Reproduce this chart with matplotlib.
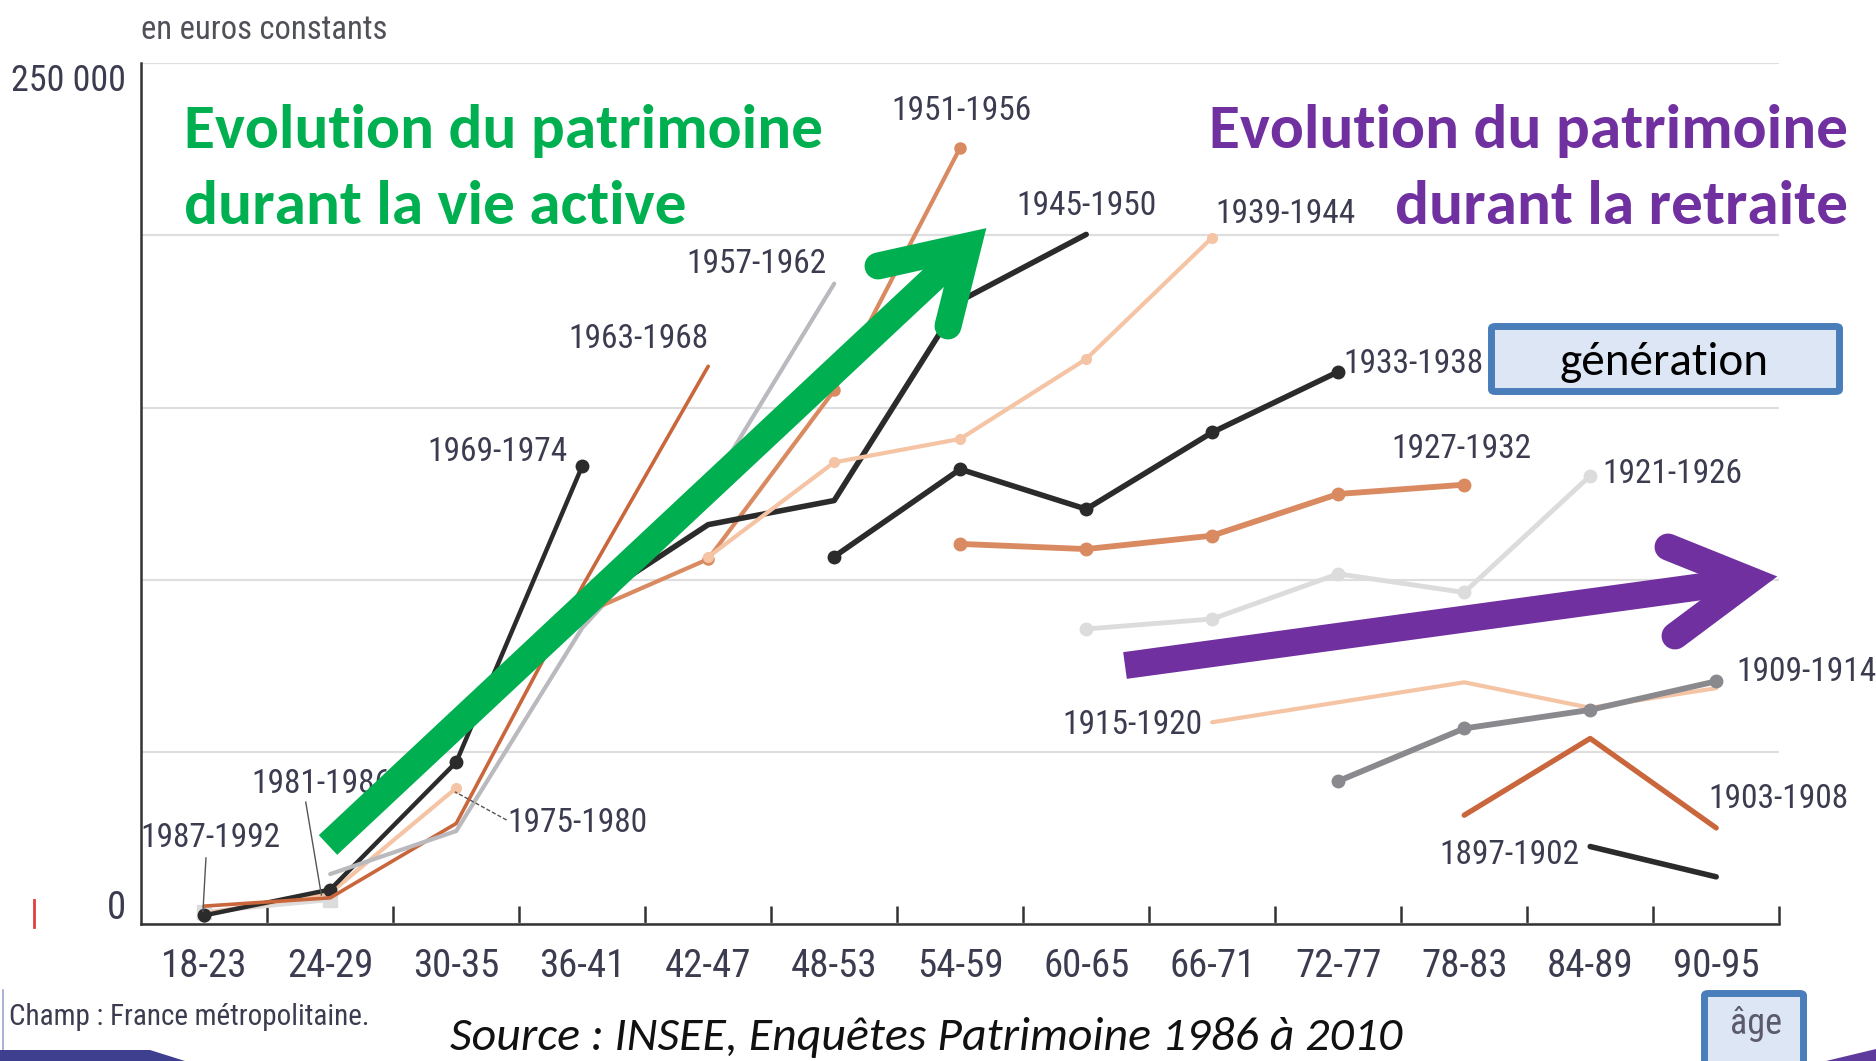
import matplotlib
matplotlib.use('Agg')
import matplotlib.pyplot as plt
import numpy as np
from matplotlib import font_manager
from matplotlib.lines import Line2D
from matplotlib.patches import FancyBboxPatch, Polygon

# ---------------- data ----------------
ages = ['18-23', '24-29', '30-35', '36-41', '42-47', '48-53', '54-59',
        '60-65', '66-71', '72-77', '78-83', '84-89', '90-95']

generations = ['1987-1992', '1981-1986', '1975-1980', '1969-1974', '1963-1968',
               '1957-1962', '1951-1956', '1945-1950', '1939-1944', '1933-1938',
               '1927-1932', '1921-1926', '1915-1920', '1909-1914', '1903-1908',
               '1897-1902']
# index (in ages) of the first age group observed for each generation
first_age = [0, 0, 0, 0, 0, 1, 2, 3, 4, 5, 6, 7, 8, 9, 10, 11]

v1987_1992 = [2400]
v1981_1986 = [3500, 7000]
v1975_1980 = [3000, 9000, 39500]
v1969_1974 = [2500, 10000, 47000, 133000]
v1963_1968 = [5200, 7600, 29200, 98000, 162000]
v1957_1962 = [14500, 27000, 86000, 126000, 186000]
v1951_1956 = [57000, 90000, 106000, 155000, 225500]
v1945_1950 = [92000, 116000, 123000, 181000, 200300]
v1939_1944 = [106600, 134100, 140900, 164100, 199400]
v1933_1938 = [106700, 132100, 120500, 142800, 160400]
v1927_1932 = [110400, 108900, 112800, 124900, 127600]
v1921_1926 = [85700, 88600, 101700, 96300, 130200]
v1915_1920 = [58600, 64400, 70200, 62800, 68500]
v1909_1914 = [41500, 56800, 62200, 70500]
v1903_1908 = [31600, 53900, 27900]
v1897_1902 = [22500, 13700]

series = [v1987_1992, v1981_1986, v1975_1980, v1969_1974, v1963_1968,
          v1957_1962, v1951_1956, v1945_1950, v1939_1944, v1933_1938,
          v1927_1932, v1921_1926, v1915_1920, v1909_1914, v1903_1908,
          v1897_1902]

# ---------------- styles ----------------
BLACK = '#2b2b2b'
DKOR = '#c9663c'
MDOR = '#d98a60'
PEACH = '#f5c4a4'
GREY = '#b9b9be'
LTGREY = '#dcdcdc'
DKGREY = '#8a8a8e'
styles = [
    dict(color=DKGREY, lw=2.5, marker='o', ms=8),
    dict(color=LTGREY, lw=3.0, marker='s', ms=10),
    dict(color=PEACH, lw=3.0, marker='o', ms=7),
    dict(color=BLACK, lw=3.2, marker='o', ms=9),
    dict(color=DKOR, lw=2.6, marker=None, ms=0),
    dict(color=GREY, lw=3.0, marker=None, ms=0),
    dict(color=MDOR, lw=3.0, marker='o', ms=8),
    dict(color=BLACK, lw=4.0, marker=None, ms=0),
    dict(color=PEACH, lw=3.0, marker='o', ms=7),
    dict(color=BLACK, lw=4.0, marker='o', ms=9),
    dict(color=MDOR, lw=4.2, marker='o', ms=9),
    dict(color=LTGREY, lw=3.5, marker='o', ms=9),
    dict(color=PEACH, lw=3.0, marker=None, ms=0),
    dict(color=DKGREY, lw=4.2, marker='o', ms=9),
    dict(color=DKOR, lw=3.8, marker=None, ms=0),
    dict(color=BLACK, lw=4.0, marker=None, ms=0),
]
# label anchor (x in age-index units, y in euros)
label_pos = [(0.05, 25100), (0.93, 40700), (2.96, 29300), (2.33, 137000),
             (3.45, 170000), (4.38, 191600), (6.01, 236000), (7.00, 208600),
             (8.58, 206200), (9.60, 162700), (9.98, 138000), (11.65, 130800),
             (7.37, 57800), (12.72, 73100), (12.49, 36300), (10.36, 19900)]

W, H, DPI = 1876, 1061, 100
names = set(font_manager.get_font_names())
NARROW = next((f for f in ['Liberation Sans Narrow', 'Roboto Condensed', 'Liberation Sans']
               if f in names), 'DejaVu Sans')
CAL = next((f for f in ['Carlito', 'Lato', 'Open Sans'] if f in names), 'DejaVu Sans')
LBL = '#3c3c50'
GREEN = '#00B050'
PURPLE = '#7030A0'


def P(x, y):
    return x / W, 1 - y / H


fig = plt.figure(figsize=(W / DPI, H / DPI), dpi=DPI)
fig.patch.set_facecolor('white')
AX_L, AX_R, AX_T, AX_B = 141.2, 1779.2, 63.3, 924.0
ax = fig.add_axes([AX_L / W, 1 - AX_B / H, (AX_R - AX_L) / W, (AX_B - AX_T) / H])
ax.set_xlim(-0.5, len(ages) - 0.5)
ax.set_ylim(0, 250000)
for s in ['top', 'right']:
    ax.spines[s].set_visible(False)
for s in ['left', 'bottom']:
    ax.spines[s].set_color('#333333')
    ax.spines[s].set_linewidth(1.8)
    ax.spines[s].set_zorder(5)

ax.set_yticks(np.arange(0, 250001, 50000))
ax.set_yticklabels([])
ax.tick_params(axis='y', length=0)
ax.grid(axis='y', color='#dedede', lw=1.6, zorder=0)
ax.set_xticks(range(len(ages)))
ax.set_xticklabels(ages, fontsize=28, color=LBL, family=NARROW)
ax.tick_params(axis='x', which='major', length=0, pad=17)
ax.set_xticks(np.arange(0.5, len(ages), 1.0), minor=True)
ax.tick_params(axis='x', which='minor', direction='in', length=13, width=1.8,
               color='#333333')

for vals, st, sty in zip(series, first_age, styles):
    x = np.arange(st, st + len(vals))
    ax.plot(x, vals, color=sty['color'], lw=sty['lw'], marker=sty['marker'],
            ms=sty['ms'], mec=sty['color'], solid_capstyle='round',
            clip_on=False, zorder=3)

for gen, (lx, ly) in zip(generations, label_pos):
    ax.text(lx, ly, gen, ha='center', va='center', fontsize=24, family=NARROW,
            color=LBL, zorder=4)

# leader lines
ax.plot([0.014, -0.01], [19200, 3600], color='#555555', lw=1.0, zorder=4, clip_on=False)
ax.plot([0.806, 0.930], [35400, 8400], color='#555555', lw=1.0, zorder=4, clip_on=False)
ax.plot([2.40, 1.99], [30200, 38400], color='#555555', lw=1.0, ls=(0, (3, 1.5)),
        zorder=4, clip_on=False)

# axis texts
fig.text(*P(141, 30), 'en euros constants', fontsize=23.5, family=NARROW,
         color='#505058', ha='left', va='center')
fig.text(*P(126, 63), '250 000', fontsize=26, family=NARROW, color=LBL,
         ha='right', va='top')
fig.text(*P(126, 927), '0', fontsize=28, family=NARROW, color=LBL,
         ha='right', va='bottom')
fig.text(*P(9, 1017), 'Champ : France métropolitaine.', fontsize=21,
         family=NARROW, color='#3c3c50', ha='left', va='center')

renderer = fig.canvas.get_renderer()


def fit(t, target):
    w = t.get_window_extent(renderer).width
    t.set_fontsize(t.get_fontsize() * target / w)
    return t.get_fontsize()


g1 = fig.text(*P(184, 148.3), 'Evolution du patrimoine', fontsize=40,
              family=CAL, weight='bold', color=GREEN, ha='left', va='baseline')
fs = fit(g1, 639)
fig.text(*P(184, 224), 'durant la vie active', fontsize=fs, family=CAL,
         weight='bold', color=GREEN, ha='left', va='baseline')
fig.text(*P(1848, 148.3), 'Evolution du patrimoine', fontsize=fs, family=CAL,
         weight='bold', color=PURPLE, ha='right', va='baseline')
fig.text(*P(1848, 224), 'durant la retraite', fontsize=fs, family=CAL,
         weight='bold', color=PURPLE, ha='right', va='baseline')

src = fig.text(*P(450, 1050), 'Source : INSEE, Enquêtes Patrimoine 1986 à 2010',
               fontsize=28, family=CAL, style='italic', color='#111111',
               ha='left', va='baseline', zorder=13)
fit(src, 952)

# boxes
box = FancyBboxPatch(P(1491.5, 391.5), (1839.5 - 1491.5) / W, (391.5 - 326.5) / H,
                     boxstyle='round,pad=0,rounding_size=0.002',
                     transform=fig.transFigure, facecolor='#dde6f4',
                     edgecolor='#4a7ebb', lw=5, zorder=10)
fig.add_artist(box)
gt = fig.text(*P(1663.5, 375), 'génération', fontsize=30, family=CAL,
              color='black', ha='center', va='baseline', zorder=11)
fit(gt, 209)

abox = FancyBboxPatch(P(1704.5, 1075), (1803.5 - 1704.5) / W, (1075 - 993.5) / H,
                      boxstyle='round,pad=0,rounding_size=0.002',
                      transform=fig.transFigure, facecolor='#dde6f4',
                      edgecolor='#4a7ebb', lw=5, zorder=10)
fig.add_artist(abox)
fig.text(*P(1756, 1024), 'âge', fontsize=26, family=NARROW, color='#5a5a6a',
         ha='center', va='center', zorder=11)


# arrows
def arrow(start, vertex, arm1, arm2, color, lw=19.4):
    xs, ys = zip(*[P(*start), P(*vertex)])
    fig.add_artist(Line2D(xs, ys, transform=fig.transFigure, color=color, lw=lw,
                          solid_capstyle='butt', zorder=8))
    xs, ys = zip(*[P(*arm1), P(*vertex), P(*arm2)])
    fig.add_artist(Line2D(xs, ys, transform=fig.transFigure, color=color, lw=lw,
                          solid_capstyle='round', solid_joinstyle='miter', zorder=8))


arrow((328, 845), (968, 246), (878, 266), (948, 326), GREEN)
arrow((1125, 665.5), (1750, 580), (1668, 547), (1675, 636), PURPLE)

# slide decorations
fig.add_artist(Polygon([P(0, 1050), P(150, 1050), P(185, 1061), P(0, 1061)],
                       closed=True, transform=fig.transFigure,
                       facecolor='#3f3f8f', edgecolor='none', zorder=12))
fig.add_artist(Polygon([P(1876, 1049), P(1876, 1061), P(1826, 1061)],
                       closed=True, transform=fig.transFigure,
                       facecolor='#5d3a9b', edgecolor='none', zorder=12))
fig.add_artist(Line2D(*zip(P(33.5, 900), P(33.5, 927)), transform=fig.transFigure,
                      color='#e04040', lw=2))
fig.add_artist(Line2D(*zip(P(3, 990), P(3, 1061)), transform=fig.transFigure,
                      color='#9aa4c8', lw=1.2))

fig.savefig('out.png', dpi=DPI, facecolor='white')
